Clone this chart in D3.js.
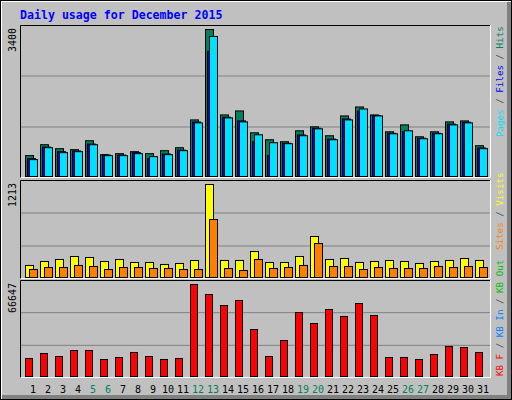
<!DOCTYPE html><html><head><script src="https://cdn.jsdelivr.net/npm/d3@7"></script>
<style>body{margin:0}svg text{font-family:"DejaVu Sans Mono",monospace}</style></head><body><script>
const days=d3.range(1,32);
const weekend=[5,6,12,13,19,20,26,27];
const hits=[483,735,643,620,827,505,528,574,528,597,666,1309,3400,1424,1516,1011,850,804,1057,1149,942,1401,1608,1424,1034,1194,919,1034,1263,1286,712];
const files=[413,680,574,590,750,495,495,551,413,520,610,1260,2894,1370,1286,804,482,770,960,1115,865,1330,1516,1410,1000,1034,885,1000,1210,1255,660];
const pages=[390,666,551,574,735,482,482,528,459,505,597,1240,3239,1355,1263,965,781,758,942,1103,850,1309,1562,1401,988,1057,873,988,1194,1240,643];
const visits=[157,209,235,274,261,209,235,196,196,170,183,222,1213,222,222,339,196,196,274,535,235,248,196,209,222,209,183,209,222,248,222];
const sites=[104,130,130,157,143,104,130,130,117,117,104,104,756,117,91,235,117,130,157,443,143,143,104,130,117,117,117,143,130,143,130];
const kbF=[13000,16660,14490,18830,18830,12310,13760,17390,14490,12310,13000,66647,59400,51430,55060,34050,14490,26080,46360,38390,48540,43460,52880,44190,13760,13760,12310,15940,21730,21010,17390];
const maxLabels=["3400","1213","66647"];

const svg=d3.select("body").append("svg").attr("width",512).attr("height",400);
svg.append("rect").attr("width",512).attr("height",400).attr("fill","#C0C0C0");
svg.append("rect").attr("x",0.5).attr("y",0.5).attr("width",511).attr("height",399).attr("fill","none").attr("stroke","#000");
svg.append("rect").attr("x",1).attr("y",1).attr("width",510).attr("height",1).attr("fill","#fff");
svg.append("rect").attr("x",1).attr("y",1).attr("width",1).attr("height",398).attr("fill","#fff");
svg.append("rect").attr("x",507).attr("y",2).attr("width",4).attr("height",397).attr("fill","#808080");
svg.append("rect").attr("x",2).attr("y",395).attr("width",509).attr("height",4).attr("fill","#808080");
svg.append("text").attr("x",20).attr("y",19).attr("fill","#0000FF").attr("font-weight","bold").attr("font-size","11.6px").text("Daily usage for December 2015");

const x=d3.scaleLinear().domain([1,31]).range([25,475]);
const panels=[{t:25,b:178},{t:180,b:279},{t:280,b:378}];
panels.forEach((p,i)=>{
  svg.append("rect").attr("x",20).attr("y",p.t).attr("width",470).attr("height",p.b-p.t).attr("fill","#C0C0C0");
  [1,2].forEach(k=>{const y=p.t+(p.b-p.t)*k/3;svg.append("line").attr("x1",21).attr("x2",490).attr("y1",y).attr("y2",y).attr("stroke","#808080");});
  svg.append("path").attr("d",`M20.5,${p.b}V${p.t+.5}H490`).attr("stroke","#000").attr("fill","none");
  svg.append("path").attr("d",`M20.5,${p.b-.5}H490.5V${p.t}`).attr("stroke","#fff").attr("fill","none");
  svg.append("text").attr("transform",`translate(16,${p.t+3}) rotate(-90)`).attr("text-anchor","end").attr("font-size","10px").text(maxLabels[i]);
});
function bars(data,max,p,top,off,w,col){
  const y=d3.scaleLinear().domain([0,max]).range([p.b-2,top]);
  svg.append("g").selectAll("rect").data(data).join("rect")
   .attr("x",(d,i)=>x(days[i])+off+.5).attr("y",d=>y(d)+.5).attr("width",w).attr("height",d=>p.b-2-y(d))
   .attr("fill",col).attr("stroke","#000");
}
bars(hits,3400,panels[0],29,0,8,"#00805C");
bars(files,3400,panels[0],29,2,8,"#0000FF");
bars(pages,3400,panels[0],29,4,8,"#00E0FF");
bars(visits,1213,panels[1],184,0,8,"#FFFF00");
bars(sites,1213,panels[1],184,4,8,"#FF8000");
bars(kbF,66647,panels[2],284,0,7,"#FF0000");

svg.append("g").selectAll("text").data(days).join("text")
 .attr("x",d=>x(d)+8).attr("y",393).attr("text-anchor","middle").attr("font-size","10px")
 .attr("fill",d=>weekend.includes(d)?"#00805C":"#000").text(d=>d);

function vlabel(y,parts){
  const t=svg.append("text").attr("transform",`translate(503,${y}) rotate(-90)`).attr("font-size","9.2px");
  parts.forEach(([s,c])=>t.append("tspan").attr("fill",c).text(s));
}
vlabel(137,[["Pages","#00E0FF"],[" / ","#404040"],["Files","#0000FF"],[" / ","#404040"],["Hits","#00805C"]]);
vlabel(376,[["KB F","#FF0000"],[" / ","#404040"],["KB In","#0080FF"],[" / ","#404040"],["KB Out","#00C000"]]);
vlabel(250,[["Sites","#FF8000"],[" / ","#404040"],["Visits","#FFFF00"]]);
</script></body></html>
